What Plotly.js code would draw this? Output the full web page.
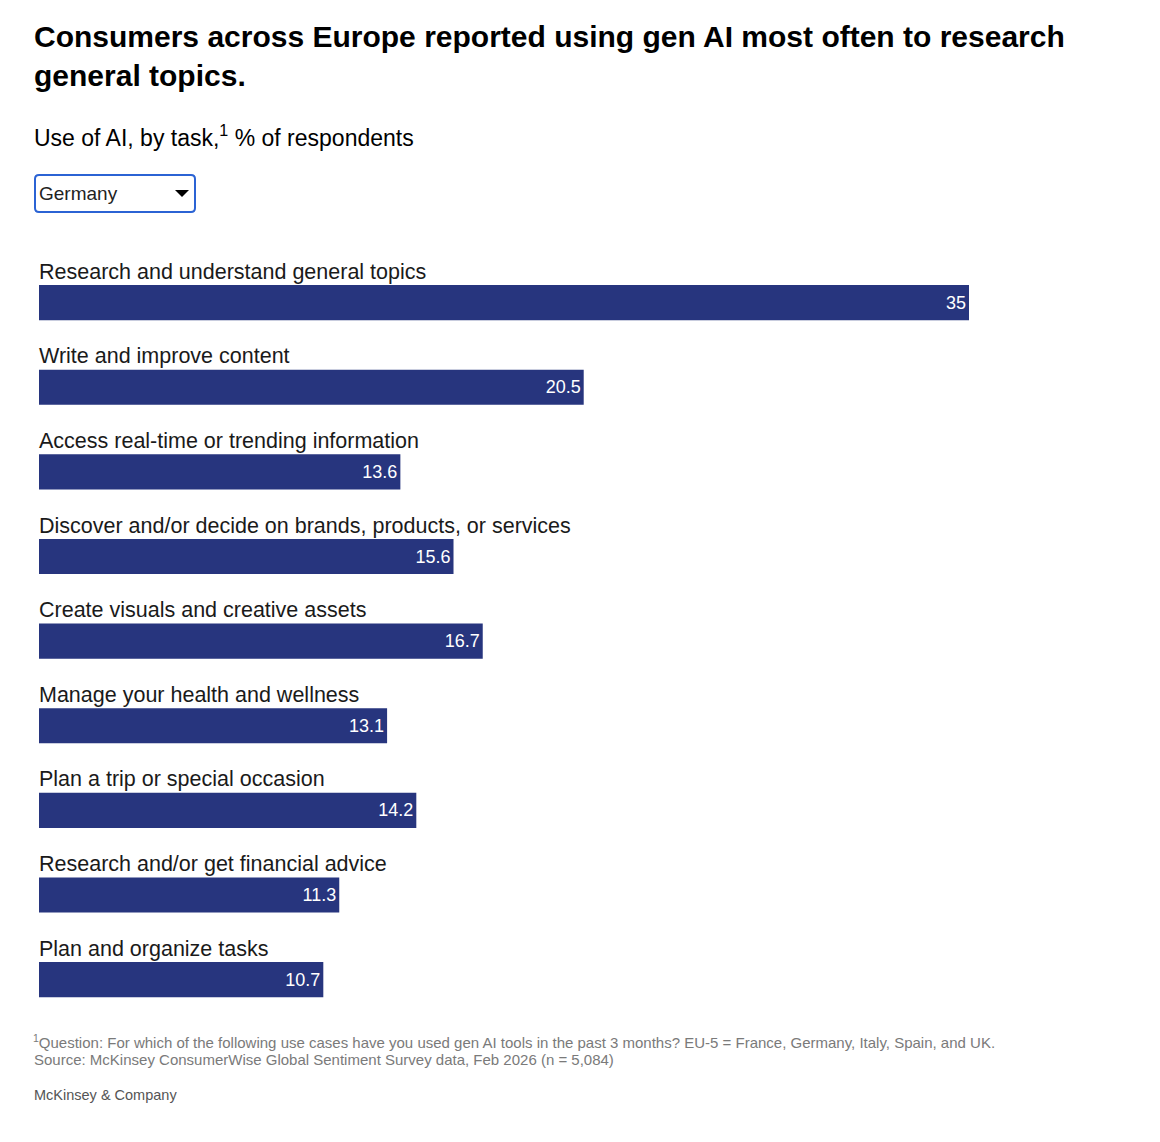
<!DOCTYPE html>
<html>
<head>
<meta charset="utf-8">
<script src="https://cdn.plot.ly/plotly-3.0.1.min.js"></script>
<style>
  html, body { margin: 0; padding: 0; background: #fff; }
  #chart { width: 1160px; height: 1142px; }
</style>
</head>
<body>
<div id="chart"></div>
<script>
// ---- Data ----
const categories = [
  "Research and understand general topics",
  "Write and improve content",
  "Access real-time or trending information",
  "Discover and/or decide on brands, products, or services",
  "Create visuals and creative assets",
  "Manage your health and wellness",
  "Plan a trip or special occasion",
  "Research and/or get financial advice",
  "Plan and organize tasks"
];
const values = [35, 20.5, 13.6, 15.6, 16.7, 13.1, 14.2, 11.3, 10.7];
const valueLabels = ["35", "20.5", "13.6", "15.6", "16.7", "13.1", "14.2", "11.3", "10.7"];
const country = "Germany";

const titleText = "Consumers across Europe reported using gen AI most often to research<br>general topics.";
const subtitleText = "Use of AI, by task,<sup>1</sup> % of respondents";
const footnote1 = "<sup>1</sup>Question: For which of the following use cases have you used gen AI tools in the past 3 months? EU-5 = France, Germany, Italy, Spain, and UK.";
const footnote2 = "Source: McKinsey ConsumerWise Global Sentiment Survey data, Feb 2026 (n = 5,084)";
const brand = "McKinsey &amp; Company";

// ---- Layout geometry ----
const FIG_W = 1160, FIG_H = 1142;
const L = 39, T = 218, PW = 930, PH = 804;
const R = FIG_W - L - PW, B = FIG_H - T - PH;
const xp = px => (px - L) / PW;
const yp = py => 1 - (py - T) / PH;

const FONT = "Liberation Sans, Arial, Helvetica, sans-serif";
const BAR = "#27357e";

const trace = {
  type: "bar",
  orientation: "h",
  y: categories,
  x: values,
  text: valueLabels,
  textposition: "inside",
  insidetextanchor: "end",
  textfont: { family: FONT, size: 18, color: "#ffffff" },
  marker: { color: BAR, line: { width: 0 } },
  width: 0.415,
  hoverinfo: "x+y",
  cliponaxis: false
};

const annotations = categories.map(c => ({
  xref: "paper", yref: "y",
  x: 0, y: c,
  xanchor: "left", yanchor: "middle",
  xshift: -2, yshift: 31,
  text: c,
  showarrow: false,
  font: { family: FONT, size: 21.5, color: "#1a1a1a" }
}));

annotations.push(
  { xref: "paper", yref: "paper", x: xp(32), y: yp(18), xanchor: "left", yanchor: "top", align: "left",
    text: titleText, showarrow: false, font: { family: FONT, size: 30, color: "#000", weight: 700 } },
  { xref: "paper", yref: "paper", x: xp(32), y: yp(136), xanchor: "left", yanchor: "middle",
    text: subtitleText, showarrow: false, font: { family: FONT, size: 23, color: "#000" } },
  { xref: "paper", yref: "paper", x: xp(37), y: yp(193.5), xanchor: "left", yanchor: "middle",
    text: country, showarrow: false, font: { family: FONT, size: 19, color: "#222" } },
  { xref: "paper", yref: "paper", x: xp(31), y: yp(1041), xanchor: "left", yanchor: "middle",
    text: footnote1, showarrow: false, font: { family: FONT, size: 15, color: "#7a7a7a" } },
  { xref: "paper", yref: "paper", x: xp(32), y: yp(1059), xanchor: "left", yanchor: "middle",
    text: footnote2, showarrow: false, font: { family: FONT, size: 15, color: "#7a7a7a" } },
  { xref: "paper", yref: "paper", x: xp(32), y: yp(1095), xanchor: "left", yanchor: "middle",
    text: brand, showarrow: false, font: { family: FONT, size: 14.5, color: "#555" } }
);

// rounded rectangle path for the selector box (paper coords)
function roundedRect(x0, y0, x1, y1, r) {
  const P = (x, y) => xp(x).toFixed(5) + "," + yp(y).toFixed(5);
  return "M" + P(x0 + r, y0) +
    " L" + P(x1 - r, y0) + " Q" + P(x1, y0) + " " + P(x1, y0 + r) +
    " L" + P(x1, y1 - r) + " Q" + P(x1, y1) + " " + P(x1 - r, y1) +
    " L" + P(x0 + r, y1) + " Q" + P(x0, y1) + " " + P(x0, y1 - r) +
    " L" + P(x0, y0 + r) + " Q" + P(x0, y0) + " " + P(x0 + r, y0) + " Z";
}
function tri(x0, x1, yTop, yBot) {
  const P = (x, y) => xp(x).toFixed(5) + "," + yp(y).toFixed(5);
  return "M" + P(x0, yTop) + " L" + P(x1, yTop) + " L" + P((x0 + x1) / 2, yBot) + " Z";
}

const layout = {
  width: FIG_W, height: FIG_H,
  margin: { l: L, r: R, t: T, b: B, pad: 0 },
  paper_bgcolor: "#fff", plot_bgcolor: "#fff",
  showlegend: false,
  xaxis: {
    range: [0, 35], showgrid: false, zeroline: false, showticklabels: false,
    showline: false, ticks: "", fixedrange: true
  },
  yaxis: {
    type: "category", range: [8.5, -1], showgrid: false, zeroline: false,
    showticklabels: false, showline: false, ticks: "", fixedrange: true
  },
  shapes: [
    { type: "path", xref: "paper", yref: "paper", path: roundedRect(35, 175, 195, 212, 4),
      line: { color: "#2b63d4", width: 2 }, fillcolor: "rgba(0,0,0,0)" },
    { type: "path", xref: "paper", yref: "paper", path: tri(175, 189, 190, 197),
      line: { width: 0 }, fillcolor: "#000" }
  ],
  annotations: annotations
};

Plotly.newPlot("chart", [trace], layout, { displayModeBar: false });
</script>
</body>
</html>
